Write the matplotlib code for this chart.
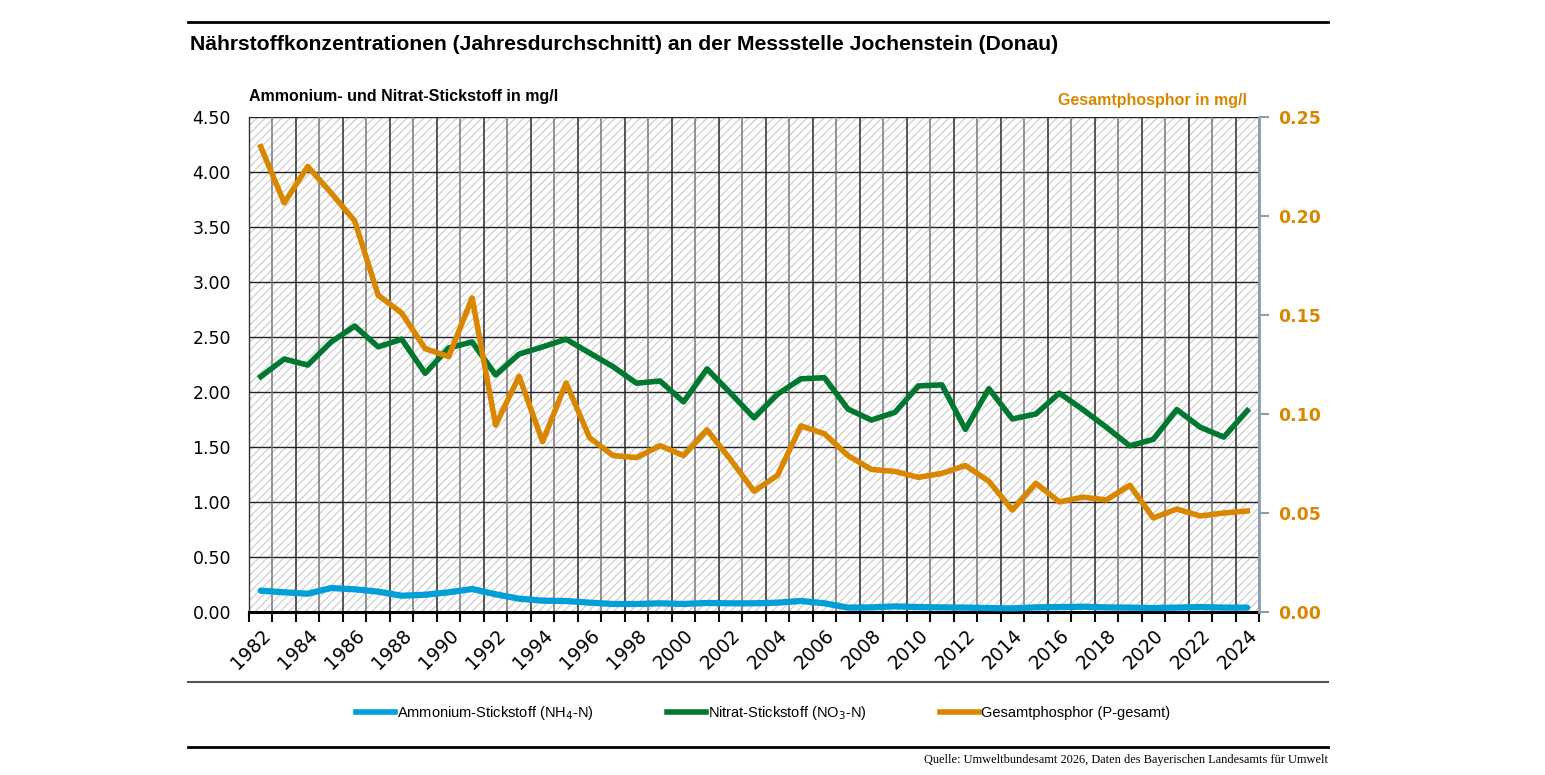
import numpy as np
import matplotlib
matplotlib.use("Agg")
import matplotlib.pyplot as plt
from matplotlib.patches import Rectangle
from matplotlib.lines import Line2D

plt.rcParams['font.family'] = ['Liberation Sans', 'DejaVu Sans']
plt.rcParams['hatch.linewidth'] = 0.9

years = list(range(1982, 2025))

ammonium = [0.194, 0.179, 0.166, 0.218, 0.206, 0.185, 0.148, 0.157, 0.179, 0.209,
            0.161, 0.121, 0.103, 0.100, 0.085, 0.073, 0.073, 0.079, 0.073, 0.082,
            0.079, 0.079, 0.085, 0.100, 0.079, 0.040, 0.042, 0.051, 0.045, 0.042,
            0.040, 0.036, 0.033, 0.042, 0.045, 0.048, 0.042, 0.040, 0.036, 0.040,
            0.045, 0.040, 0.040]

nitrat = [2.14, 2.30, 2.245, 2.455, 2.60, 2.41, 2.48, 2.17, 2.40, 2.455,
          2.155, 2.345, 2.41, 2.48, 2.355, 2.23, 2.08, 2.10, 1.91, 2.21,
          1.99, 1.765, 1.98, 2.12, 2.13, 1.845, 1.745, 1.815, 2.055, 2.065,
          1.66, 2.03, 1.755, 1.80, 1.99, 1.84, 1.68, 1.51, 1.57, 1.84,
          1.68, 1.59, 1.83]

phosphor = [0.235, 0.2066, 0.225, 0.2116, 0.1975, 0.160, 0.151, 0.133, 0.129, 0.1586,
            0.0944, 0.119, 0.086, 0.1157, 0.088, 0.079, 0.078, 0.084, 0.079, 0.092,
            0.077, 0.061, 0.069, 0.094, 0.090, 0.079, 0.072, 0.071, 0.068, 0.070,
            0.074, 0.066, 0.0515, 0.065, 0.0556, 0.058, 0.0566, 0.064, 0.0475, 0.052,
            0.0485, 0.050, 0.051]

left_ticks = [0.0, 0.5, 1.0, 1.5, 2.0, 2.5, 3.0, 3.5, 4.0, 4.5]
right_ticks = [0.0, 0.05, 0.10, 0.15, 0.20, 0.25]

c_blue = '#009FDA'
c_green = '#00782F'
c_orange = '#D98600'
c_axis = '#8C9EB0'

fig = plt.figure(figsize=(15.45, 7.75), dpi=100)
ax = fig.add_axes([249/1545, 1-612/775, 1010/1545, 495/775])
ax2 = ax.twinx()

n = len(years)
x = np.arange(n) + 0.5

# hatched background
ax.add_patch(Rectangle((0, 0), n, 4.5, facecolor='white', edgecolor='#D0D0D0',
                       hatch='////', linewidth=0, zorder=0))
# grid
for v in left_ticks:
    ax.axhline(v, color='#222222', lw=1.0, zorder=1)
for k in range(n + 1):
    ax.axvline(k, color='#2A2A2A' if k % 2 == 0 else '#777777', lw=1.1, zorder=1)

ax.plot(x, ammonium, color=c_blue, lw=4.5, zorder=3, solid_capstyle='round')
ax.plot(x, nitrat, color=c_green, lw=4, zorder=3)
ax2.plot(x, phosphor, color=c_orange, lw=4, zorder=3)

ax.set_xlim(0, n)
ax.set_ylim(0, 4.5)
ax2.set_ylim(0, 0.25)

ax.set_yticks(left_ticks)
ax.set_yticklabels([f'{v:.2f}' for v in left_ticks], fontsize=12.5,
                   family=['DejaVu Sans'])
ax.tick_params(axis='y', length=0, pad=13)

ax.set_xticks(np.arange(n + 1), minor=True)
ax.set_xticks(x[::2])
ax.set_xticklabels([str(y) for y in years[::2]], rotation=45, ha='right',
                   rotation_mode='anchor', fontsize=13.5, family=['DejaVu Sans'])
ax.tick_params(axis='x', which='major', length=0, pad=10)
ax.tick_params(axis='x', which='minor', length=7, width=1.5, color='black', direction='out')

ax2.set_yticks(right_ticks)
ax2.set_yticklabels([f'{v:.2f}' for v in right_ticks], fontsize=12.5,
                    color=c_orange, fontweight='bold', family=['DejaVu Sans'])
ax2.tick_params(axis='y', length=7, width=1.5, color=c_axis, pad=7)

ax.spines['top'].set_visible(False)
ax2.spines['top'].set_visible(False)
ax.spines['left'].set_color('#333333')
ax.spines['left'].set_linewidth(1)
ax.spines['bottom'].set_linewidth(2.2)
ax.spines['bottom'].set_color('black')
ax2.spines['bottom'].set_visible(False)
ax2.spines['left'].set_visible(False)
ax.spines['right'].set_visible(False)
ax2.spines['right'].set_color(c_axis)
ax2.spines['right'].set_linewidth(2)

# axis titles
fig.text(249/1545, 1-97/775, 'Ammonium- und Nitrat-Stickstoff in mg/l',
         fontsize=11.5, fontweight='bold', va='center', ha='left')
fig.text(1247/1545, 1-100/775, 'Gesamtphosphor in mg/l', fontsize=11.5,
         fontweight='bold', color=c_orange, va='center', ha='right')

# title and rules
fig.text(190/1545, 1-45/775,
         'Nährstoffkonzentrationen (Jahresdurchschnitt) an der Messstelle Jochenstein (Donau)',
         fontsize=15.2, fontweight='bold', va='center', ha='left')
fig.add_artist(Line2D([188/1545, 1328/1545], [1-22/775, 1-22/775], color='black', lw=2))
fig.add_artist(Line2D([188/1545, 1328/1545], [1-682/775, 1-682/775], color='#555555', lw=1.5))
fig.add_artist(Line2D([188/1545, 1328/1545], [1-747/775, 1-747/775], color='black', lw=2))

handles = [Line2D([], [], color=c_blue, lw=4),
           Line2D([], [], color=c_green, lw=4),
           Line2D([], [], color=c_orange, lw=4)]
labels = ['Ammonium-Stickstoff (NH$_4$-N)', 'Nitrat-Stickstoff (NO$_3$-N)',
          'Gesamtphosphor (P-gesamt)']
fig.legend(handles, labels, loc='center', bbox_to_anchor=(763/1545, 1-713/775),
           ncol=3, frameon=False, fontsize=10.5, handlelength=2.7,
           handletextpad=0.15, columnspacing=5.0)

fig.text(1328/1545, 1-760/775,
         'Quelle: Umweltbundesamt 2026, Daten des Bayerischen Landesamts für Umwelt',
         fontsize=8.9, family=['Liberation Serif', 'DejaVu Serif'], ha='right', va='center')

fig.savefig('out.png', dpi=100)
